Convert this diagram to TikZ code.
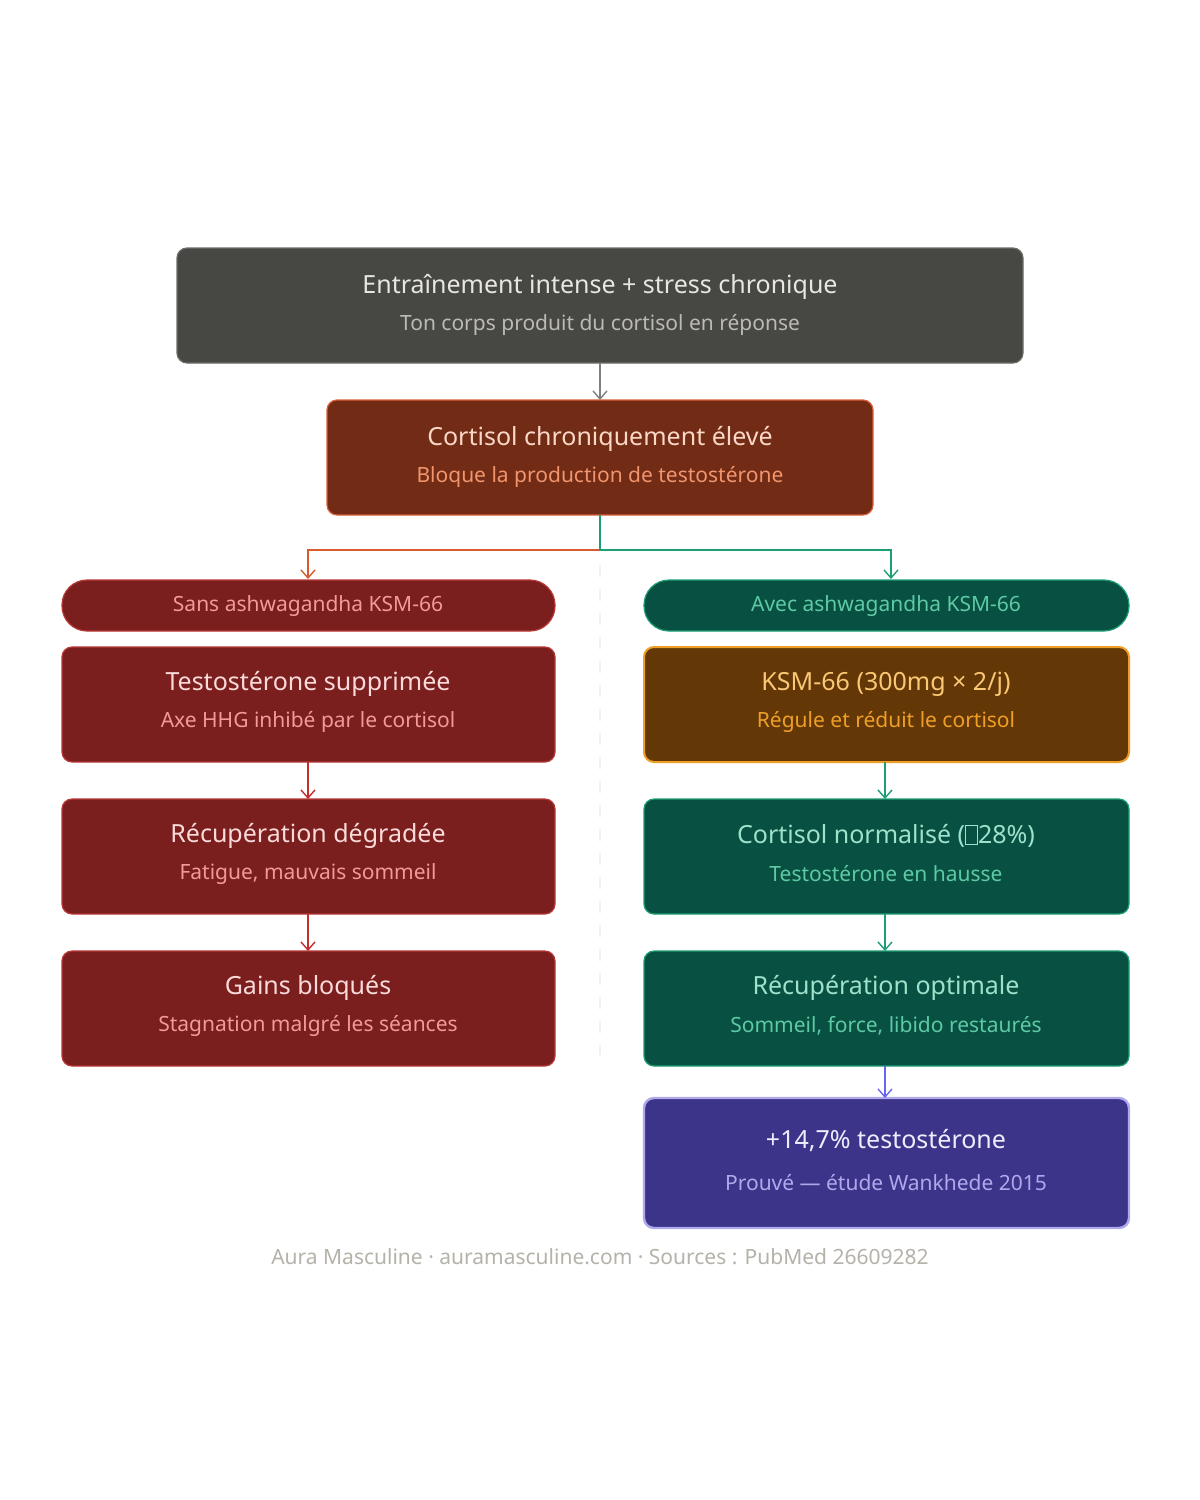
\documentclass[tikz,border=0pt]{standalone}
\usepackage{fontspec}
\setmainfont{Noto Sans}
\usetikzlibrary{arrows.meta}
\definecolor{gbg}{HTML}{474743}\definecolor{gt}{HTML}{E8E6E0}\definecolor{gs}{HTML}{BCBAB2}
\definecolor{cbg}{HTML}{722B14}\definecolor{cbd}{HTML}{D9603A}\definecolor{ct}{HTML}{FBD7C7}\definecolor{cs}{HTML}{F0956E}
\definecolor{rbg}{HTML}{7A1E1E}\definecolor{rbd}{HTML}{B83838}\definecolor{rt}{HTML}{FBDADA}\definecolor{rs}{HTML}{F19A9A}
\definecolor{vbg}{HTML}{085041}\definecolor{vbd}{HTML}{1D9E75}\definecolor{vt}{HTML}{9FE1CB}\definecolor{vs}{HTML}{5DCAA5}
\definecolor{obg}{HTML}{633806}\definecolor{obd}{HTML}{EF9F27}\definecolor{ot}{HTML}{FAC775}
\definecolor{pbg}{HTML}{3C3489}\definecolor{pbd}{HTML}{AFA9EC}\definecolor{pt}{HTML}{EEEDFE}
\definecolor{foot}{HTML}{B4B2A9}\definecolor{orl}{HTML}{D85A30}
\newcommand\tofu{{\setlength{\fboxsep}{0pt}\setlength{\fboxrule}{0.4pt}\fbox{\rule{0pt}{0.72em}\hspace{0.45em}}}}
\begin{document}
\begin{tikzpicture}[x=0.5pt,y=-0.5pt,
 box/.style={rounded corners=5pt,line width=0.6pt},
 ttl/.style={font=\fontsize{12.5}{14}\selectfont},
 sub/.style={font=\fontsize{10.5}{12}\selectfont},
 arr/.style={line width=1pt,-{Straight Barb[length=4pt,width=7pt,line width=0.7pt]}},
]
\useasboundingbox (0,0) rectangle (1200,1500);
\fill[white] (0,0) rectangle (1200,1500);
\draw[gray!12,line width=0.8pt,dash pattern=on 6pt off 6pt] (600,565) -- (600,1055);
% top
\draw[box,fill=gbg,draw=gbg!80!white] (177,248) rectangle (1023,363);
\node[ttl,text=gt] (t1) at (600,287) {Entraînement intense + stress chronique};
\node[sub,text=gs] (t2) at (600,325) {Ton corps produit du cortisol en réponse};
\coordinate (top) at (600,363);
% cortisol
\draw[box,fill=cbg,draw=cbd] (327,400) rectangle (873,515);
\node[ttl,text=ct] at (600,439) {Cortisol chroniquement élevé};
\node[sub,text=cs] at (600,477) {Bloque la production de testostérone};
\coordinate (ctop) at (600,400);\coordinate (cbot) at (600,515);
\draw[arr,draw=gray] (top) -- (ctop);
% branches
\coordinate (lb) at (308,579);\coordinate (rb) at (891,579);
\draw[arr,draw=orl] (cbot) -- (600,550) -- (308,550) -- (lb);
\draw[arr,draw=vbd] (cbot) -- (600,550) -- (891,550) -- (rb);
% left
\draw[fill=rbg,draw=rbd,rounded corners=12.5pt,line width=0.6pt] (62,580) rectangle (555,631);
\node[sub,text=rs] at (308,606) {Sans ashwagandha KSM-66};
\foreach \y/\a/\b in {647/Testostérone supprimée/Axe HHG inhibé par le cortisol,799/Récupération dégradée/{Fatigue, mauvais sommeil},951/Gains bloqués/Stagnation malgré les séances}{
 \draw[box,fill=rbg,draw=rbd] (62,\y) rectangle (555,\y+115);
 \node[ttl,text=rt] at (308,\y+37) {\a};
 \node[sub,text=rs] at (308,\y+75) {\b};}
\draw[arr,draw=rbd!80!red] (308,762) -- (308,799);
\draw[arr,draw=rbd!80!red] (308,914) -- (308,951);
% right
\draw[fill=vbg,draw=vbd,rounded corners=12.5pt,line width=0.6pt] (644,580) rectangle (1129,631);
\node[sub,text=vs] at (886,606) {Avec ashwagandha KSM-66};
\draw[box,fill=obg,draw=obd,line width=1pt] (644,647) rectangle (1129,762);
\node[ttl,text=ot] at (886,684) {KSM-66 (300mg × 2/j)};
\node[sub,text=obd] at (886,722) {Régule et réduit le cortisol};
\foreach \y/\a/\b in {799/{Cortisol normalisé (\tofu28\%)}/Testostérone en hausse,951/Récupération optimale/{Sommeil, force, libido restaurés}}{
 \draw[box,fill=vbg,draw=vbd] (644,\y) rectangle (1129,\y+115);
 \node[ttl,text=vt] at (886,\y+37) {\a};
 \node[sub,text=vs] at (886,\y+75) {\b};}
\draw[box,fill=pbg,draw=pbd,line width=1.2pt] (644,1098) rectangle (1129,1228);
\node[ttl,text=pt] at (886,1141) {+14,7\% testostérone};
\node[sub,text=pbd] at (886,1183) {Prouvé — étude Wankhede 2015};
\draw[arr,draw=vbd] (885,762) -- (885,799);
\draw[arr,draw=vbd] (885,914) -- (885,951);
\draw[arr,draw=pbd!60!blue] (885,1066) -- (885,1098);
\node[sub,text=foot] (ft) at (600,1257) {Aura Masculine · auramasculine.com · Sources : PubMed 26609282};
\end{tikzpicture}
\end{document}
